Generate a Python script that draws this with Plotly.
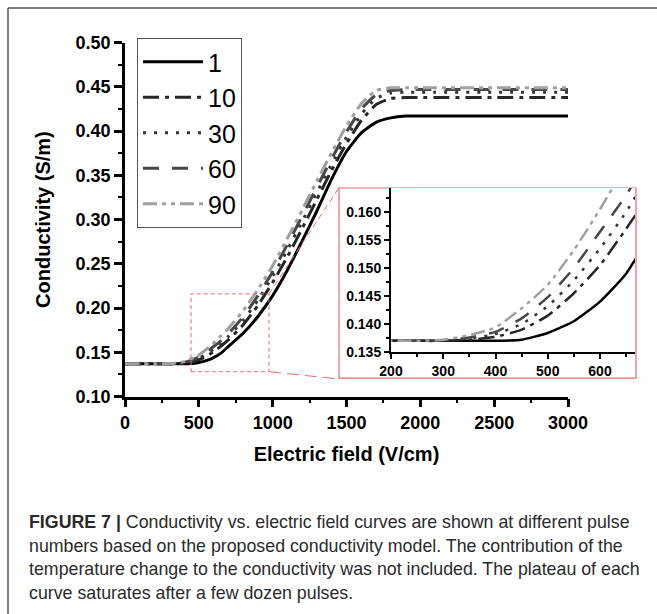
import plotly.graph_objects as go

# ---------------- data ----------------
E = [0, 200, 250, 300, 350, 400, 450, 500, 550, 600, 650, 700, 800, 900, 1000,
     1100, 1200, 1300, 1400, 1500, 1600, 1700, 1800, 1900, 2000, 2500, 3000]

s1 = [0.137, 0.137, 0.137, 0.137, 0.137, 0.137, 0.1372, 0.1384, 0.1405, 0.1440, 0.1490,
      0.1565, 0.1715, 0.1905, 0.214, 0.243, 0.276, 0.310, 0.346, 0.377, 0.398, 0.410,
      0.415, 0.417, 0.417, 0.417, 0.417]
s10 = [0.137, 0.137, 0.137, 0.137, 0.1372, 0.1377, 0.1390, 0.1415, 0.1455, 0.1505, 0.1570,
       0.164, 0.181, 0.203, 0.229, 0.258, 0.290, 0.323, 0.356, 0.386, 0.412, 0.430,
       0.437, 0.438, 0.438, 0.438, 0.438]
s30 = [0.137, 0.137, 0.137, 0.137, 0.1374, 0.1382, 0.1400, 0.1432, 0.1478, 0.1535, 0.1600,
       0.168, 0.186, 0.209, 0.236, 0.266, 0.298, 0.331, 0.363, 0.393, 0.419, 0.437,
       0.443, 0.444, 0.444, 0.444, 0.444]
s60 = [0.137, 0.137, 0.137, 0.1371, 0.1376, 0.1386, 0.1410, 0.1448, 0.1500, 0.1565, 0.1630,
       0.171, 0.190, 0.214, 0.241, 0.272, 0.304, 0.337, 0.369, 0.399, 0.425, 0.441,
       0.446, 0.447, 0.447, 0.447, 0.447]
s90 = [0.137, 0.137, 0.137, 0.1372, 0.1380, 0.1394, 0.1428, 0.1470, 0.1532, 0.1605, 0.1685,
       0.177, 0.197, 0.221, 0.248, 0.279, 0.311, 0.344, 0.376, 0.406, 0.431, 0.446,
       0.449, 0.449, 0.449, 0.449, 0.449]

names = ["1", "10", "30", "60", "90"]
series = [s1, s10, s30, s60, s90]

x_ticks = [0, 500, 1000, 1500, 2000, 2500, 3000]
y_ticks = [0.10, 0.15, 0.20, 0.25, 0.30, 0.35, 0.40, 0.45, 0.50]
inset_x_ticks = [200, 300, 400, 500, 600]
inset_y_ticks = [0.135, 0.140, 0.145, 0.150, 0.155, 0.160]

# zoom window marked on the main plot, and the inset's corners in main-axis units
zoom_box = dict(x0=447, x1=975, y0=0.128, y1=0.216)
inset_corner_top = (1449, 0.336)
inset_corner_bottom = (1449, 0.1198)

caption_lines = [
    "<b>FIGURE 7 |</b> Conductivity vs. electric field curves are shown at different pulse",
    "numbers based on the proposed conductivity model. The contribution of the",
    "temperature change to the conductivity was not included. The plateau of each",
    "curve saturates after a few dozen pulses.",
]

# ---------------- styles ----------------
colors = ["#000000", "#262626", "#333333", "#474747", "#a0a0a0"]
dashes = ["solid", "16px,6px,4px,6px", "3px,8px", "16px,13px", "14px,5px,4px,5px,4px,5px"]

FONT = "Arial, 'Liberation Sans', sans-serif"

fig = go.Figure()

for nm, s, c, d in zip(names, series, colors, dashes):
    fig.add_trace(go.Scatter(x=E, y=s, mode="lines", name=nm,
                             line=dict(color=c, width=3, dash=d, shape="spline", smoothing=0.5),
                             xaxis="x", yaxis="y"))
for nm, s, c, d in zip(names, series, colors, dashes):
    fig.add_trace(go.Scatter(x=E, y=s, mode="lines", name=nm, showlegend=False,
                             line=dict(color=c, width=2.5, dash=d, shape="spline", smoothing=0.5),
                             xaxis="x2", yaxis="y2"))

W, H = 657, 614
main_dom_x = [125 / W, 568 / W]
main_dom_y = [1 - 396.5 / H, 1 - 42.7 / H]
ins_dom_x = [391 / W, 635 / W]
ins_dom_y = [1 - 352 / H, 1 - 188 / H]

axis_common = dict(showline=True, linecolor="black", ticks="outside", tickcolor="black",
                   showgrid=False, zeroline=False, mirror=False, automargin=False)

fig.update_layout(
    width=W, height=H,
    margin=dict(l=0, r=0, t=0, b=0, autoexpand=False),
    paper_bgcolor="white", plot_bgcolor="white",
    font=dict(family=FONT, color="black"),
    xaxis=dict(domain=main_dom_x, range=[0, 3000], tickvals=x_ticks, linewidth=2.5,
               tickwidth=2.5, ticklen=8, anchor="y",
               minor=dict(dtick=250, ticks="outside", ticklen=4, tickwidth=2, tickcolor="black"),
               tickfont=dict(size=18, family=FONT, weight="bold"),
               title=dict(text="<b>Electric field (V/cm)</b>",
                          font=dict(size=20, family=FONT), standoff=16), **axis_common),
    yaxis=dict(domain=main_dom_y, range=[0.10, 0.50], tickvals=y_ticks, tickformat=".2f",
               linewidth=2.5, tickwidth=2.5, ticklen=8, anchor="x",
               minor=dict(dtick=0.025, ticks="outside", ticklen=4, tickwidth=2, tickcolor="black"),
               tickfont=dict(size=18, family=FONT, weight="bold"),
               title=dict(text="<b>Conductivity (S/m)</b>",
                          font=dict(size=20, family=FONT), standoff=20), **axis_common),
    xaxis2=dict(domain=ins_dom_x, range=[200, 667], tickvals=inset_x_ticks, linewidth=2,
                tickwidth=2, ticklen=5, anchor="y2",
                minor=dict(dtick=50, ticks="outside", ticklen=3, tickwidth=1.5, tickcolor="black"),
                tickfont=dict(size=14, family=FONT, weight="bold"), **axis_common),
    yaxis2=dict(domain=ins_dom_y, range=[0.135, 0.1643], tickvals=inset_y_ticks, tickformat=".3f",
                linewidth=2, tickwidth=2, ticklen=5, anchor="x2",
                minor=dict(dtick=0.0025, ticks="outside", ticklen=3, tickwidth=1.5, tickcolor="black"),
                tickfont=dict(size=14, family=FONT, weight="bold"), **axis_common),
    legend=dict(x=137 / W, y=1 - 38 / H, xanchor="left", yanchor="top",
                bgcolor="white", bordercolor="#555555", borderwidth=1,
                font=dict(size=25, family=FONT, color="black"), itemwidth=60,
                tracegroupgap=0),
)

red = "#e36b73"
shapes = [
    dict(type="rect", xref="x", yref="y", line=dict(color=red, width=1, dash="4px,3px"), **zoom_box),
    dict(type="line", xref="x", yref="y", x0=zoom_box["x1"], y0=zoom_box["y1"],
         x1=inset_corner_top[0], y1=inset_corner_top[1], line=dict(color=red, width=1, dash="6px,4px")),
    dict(type="line", xref="x", yref="y", x0=zoom_box["x1"], y0=zoom_box["y0"],
         x1=inset_corner_bottom[0], y1=inset_corner_bottom[1], line=dict(color=red, width=1, dash="12px,6px")),
    dict(type="rect", xref="x2 domain", yref="y2 domain", x0=-0.213, x1=1.004, y0=-0.159, y1=1.0,
         line=dict(color=red, width=1.2), layer="below"),
    dict(type="line", xref="paper", yref="paper", x0=8 / W, x1=1, y0=1 - 8 / H, y1=1 - 8 / H,
         line=dict(color="#555555", width=1.5)),
    dict(type="line", xref="paper", yref="paper", x0=8 / W, x1=8 / W, y0=0, y1=1 - 8 / H,
         line=dict(color="#555555", width=1.5)),
]
fig.update_layout(shapes=shapes)

caption_y = [522, 545.5, 569, 592.5]
for txt, yy in zip(caption_lines, caption_y):
    fig.add_annotation(text=txt, xref="paper", yref="paper", x=27 / W, y=1 - yy / H,
                       xanchor="left", yanchor="middle", showarrow=False,
                       font=dict(size=17.8, family=FONT, color="#2a2a2a"))

fig.write_html("out.html")
